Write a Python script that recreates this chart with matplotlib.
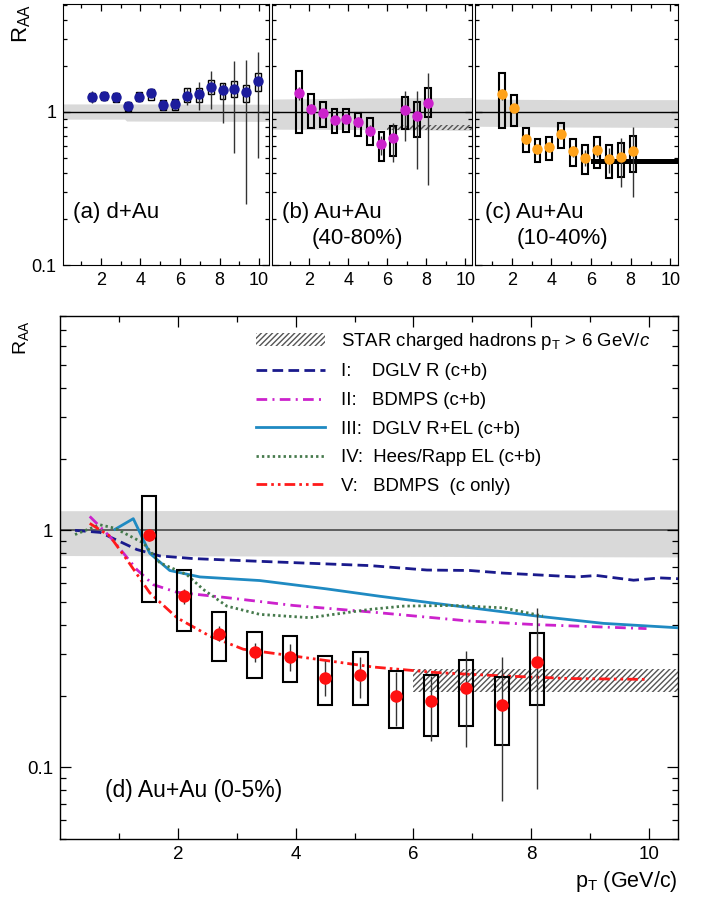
import matplotlib
matplotlib.use("Agg")
import matplotlib.pyplot as plt
from matplotlib.ticker import FixedLocator, FixedFormatter, LogLocator, NullFormatter

plt.rcParams['font.family'] = ['Liberation Sans', 'DejaVu Sans']
plt.rcParams['mathtext.fontset'] = 'custom'
plt.rcParams['mathtext.rm'] = 'Liberation Sans'
plt.rcParams['mathtext.it'] = 'Liberation Sans:italic'
plt.rcParams['hatch.linewidth'] = 1.0
plt.rcParams['hatch.color'] = '#555555'

# pT bins
pt = [1.5, 2.1, 2.7, 3.3, 3.9, 4.5, 5.1, 5.7, 6.3, 6.9, 7.5, 8.1]
pt_dau = [1.55, 2.15, 2.75, 3.35, 3.95, 4.55, 5.15, 5.75, 6.35, 6.95, 7.55, 8.15, 8.75, 9.35, 9.95]

# (a) d+Au
raa_dau = [1.25, 1.27, 1.24, 1.085, 1.25, 1.32, 1.11, 1.12, 1.27, 1.30, 1.45, 1.38, 1.40, 1.34, 1.59]
dau_stat_lo = [1.14, 1.20, 1.18, 1.02, 1.17, 1.24, 1.04, 1.04, 1.10, 1.03, 1.05, 0.84, 0.54, 0.25, 0.50]
dau_stat_hi = [1.37, 1.34, 1.31, 1.15, 1.34, 1.41, 1.19, 1.22, 1.44, 1.57, 1.85, 1.53, 2.14, 2.17, 2.46]
dau_sys_lo = [1.17, 1.19, 1.16, 1.01, 1.17, 1.20, 1.03, 1.03, 1.15, 1.16, 1.30, 1.21, 1.24, 1.16, 1.37]
dau_sys_hi = [1.33, 1.35, 1.32, 1.16, 1.34, 1.40, 1.20, 1.22, 1.44, 1.42, 1.61, 1.53, 1.59, 1.49, 1.78]

# (b) Au+Au 40-80%
raa_per = [1.32, 1.05, 0.976, 0.883, 0.892, 0.853, 0.752, 0.613, 0.677, 1.026, 0.937, 1.134]
per_stat_lo = [1.20, 0.98, 0.92, 0.83, 0.84, 0.79, 0.69, 0.52, 0.468, 0.644, 0.423, 0.333]
per_stat_hi = [1.45, 1.12, 1.04, 0.94, 0.95, 0.92, 0.82, 0.70, 0.848, 1.37, 1.37, 1.79]
per_sys_lo = [0.723, 0.787, 0.79, 0.73, 0.733, 0.694, 0.606, 0.479, 0.516, 0.767, 0.687, 0.928]
per_sys_hi = [1.85, 1.30, 1.16, 1.036, 1.036, 0.985, 0.905, 0.734, 0.81, 1.25, 1.16, 1.42]

# (c) Au+Au 10-40%
raa_mid = [1.30, 1.062, 0.664, 0.569, 0.591, 0.715, 0.554, 0.50, 0.56, 0.491, 0.506, 0.554]
mid_stat_lo = [1.20, 0.99, 0.62, 0.53, 0.55, 0.67, 0.51, 0.44, 0.51, 0.40, 0.324, 0.279]
mid_stat_hi = [1.40, 1.13, 0.71, 0.61, 0.63, 0.76, 0.60, 0.56, 0.61, 0.58, 0.67, 0.79]
mid_sys_lo = [0.78, 0.81, 0.543, 0.47, 0.484, 0.577, 0.443, 0.393, 0.427, 0.368, 0.377, 0.403]
mid_sys_hi = [1.78, 1.28, 0.787, 0.661, 0.687, 0.84, 0.661, 0.604, 0.684, 0.61, 0.628, 0.697]

# (d) Au+Au 0-5%
raa_cen = [0.953, 0.527, 0.367, 0.306, 0.293, 0.239, 0.245, 0.200, 0.190, 0.216, 0.183, 0.277]
cen_stat_lo = [0.90, 0.487, 0.341, 0.277, 0.255, 0.200, 0.197, 0.150, 0.129, 0.122, 0.072, 0.081]
cen_stat_hi = [1.01, 0.567, 0.394, 0.336, 0.330, 0.281, 0.293, 0.253, 0.243, 0.310, 0.293, 0.471]
cen_sys_lo = [0.50, 0.376, 0.280, 0.238, 0.229, 0.184, 0.183, 0.146, 0.136, 0.150, 0.124, 0.183]
cen_sys_hi = [1.39, 0.679, 0.453, 0.372, 0.357, 0.295, 0.307, 0.254, 0.245, 0.283, 0.241, 0.370]

# normalisation bands (x, low, high)
norm_a_x = [0.0, 3.2, 3.3, 10.5]
norm_a_lo = [0.895, 0.895, 0.87, 0.865]
norm_a_hi = [1.125, 1.125, 1.125, 1.12]
norm_b_x = [0.0, 5.0, 10.5]
norm_b_lo = [0.77, 0.765, 0.755]
norm_b_hi = [1.21, 1.23, 1.24]
norm_c_x = [0.0, 5.0, 10.5]
norm_c_lo = [0.805, 0.795, 0.79]
norm_c_hi = [1.21, 1.20, 1.20]
norm_d_x = [0.0, 5.0, 10.5]
norm_d_lo = [0.783, 0.778, 0.772]
norm_d_hi = [1.21, 1.215, 1.22]

# STAR charged hadrons pT > 6
star_x = [6.0, 10.5]
star_b_lo = [0.755, 0.755]
star_b_hi = [0.815, 0.815]
star_c_lo = [0.455, 0.455]
star_c_hi = [0.49, 0.49]
star_d_lo = [0.207, 0.207]
star_d_hi = [0.259, 0.259]

# theory curves
c1_x = [0.25, 0.68, 1.30, 1.69, 2.26, 3.39, 5.26, 6.23, 6.96, 7.53, 8.77, 9.11, 9.74, 10.19, 10.5]
c1_y = [1.0, 0.98, 0.83, 0.78, 0.76, 0.74, 0.71, 0.68, 0.677, 0.66, 0.636, 0.645, 0.616, 0.63, 0.625]
c2_x = [0.50, 0.845, 1.30, 1.58, 1.98, 2.83, 3.96, 5.38, 6.96, 8.09, 9.96]
c2_y = [1.145, 0.94, 0.683, 0.59, 0.548, 0.52, 0.482, 0.45, 0.414, 0.40, 0.385]
c3_x = [0.93, 1.24, 1.52, 1.86, 2.37, 3.39, 4.53, 5.43, 6.40, 8.09, 9.23, 10.5]
c3_y = [1.01, 1.12, 0.80, 0.677, 0.636, 0.614, 0.566, 0.527, 0.491, 0.435, 0.405, 0.388]
c4_x = [0.25, 0.67, 0.93, 1.41, 1.69, 2.15, 2.43, 2.83, 3.39, 4.24, 5.26, 5.83, 6.68, 7.53, 8.2]
c4_y = [0.96, 1.056, 1.02, 0.885, 0.73, 0.65, 0.563, 0.479, 0.442, 0.428, 0.464, 0.479, 0.482, 0.471, 0.435]
c5_x = [0.50, 0.845, 1.13, 1.52, 1.98, 2.54, 3.11, 3.96, 5.32, 6.40, 7.53, 8.66, 9.96]
c5_y = [1.07, 0.944, 0.753, 0.545, 0.428, 0.358, 0.315, 0.295, 0.265, 0.251, 0.243, 0.237, 0.235]


def style_axes(ax, ylo, yhi, xlo, xhi, major_len, minor_len, label_size, spine_lw):
    ax.set_yscale('log')
    ax.set_ylim(ylo, yhi)
    ax.set_xlim(xlo, xhi)
    ax.yaxis.set_major_locator(FixedLocator([0.1, 1]))
    ax.yaxis.set_major_formatter(FixedFormatter(['0.1', '1']))
    ax.yaxis.set_minor_locator(LogLocator(subs=range(2, 10)))
    ax.yaxis.set_minor_formatter(NullFormatter())
    ax.xaxis.set_major_locator(FixedLocator([2, 4, 6, 8, 10]))
    ax.xaxis.set_minor_locator(FixedLocator([1, 3, 5, 7, 9]))
    ax.tick_params(which='both', direction='in', top=True, right=True, labelsize=label_size, width=0.9)
    ax.tick_params(which='major', length=major_len, pad=5)
    ax.tick_params(which='minor', length=minor_len)
    for s in ax.spines.values():
        s.set_linewidth(spine_lw)


def draw_points(ax, x, y, slo, shi, ylo, yhi, color, bw, ms, box_lw):
    ax.bar(x, [h - l for l, h in zip(ylo, yhi)], bottom=ylo, width=bw, fill=False,
           edgecolor='black', linewidth=box_lw, zorder=3)
    ax.vlines(x, slo, shi, color='#333333', linewidth=1.0, zorder=4)
    ax.plot(x, y, 'o', color=color, markersize=ms, markeredgewidth=0, zorder=5)


fig = plt.figure(figsize=(7.01, 8.97), dpi=100)
W, H = 701.0, 897.0

ax_a = fig.add_axes([63.3 / W, 1 - 265 / H, 205.7 / W, 261 / H])
ax_b = fig.add_axes([272 / W, 1 - 265 / H, 200.3 / W, 261 / H])
ax_c = fig.add_axes([474.6 / W, 1 - 265 / H, 203.7 / W, 261 / H])
ax_d = fig.add_axes([60.3 / W, 1 - 838.7 / H, 618 / W, 522.4 / H])

style_axes(ax_a, 0.1, 5.05, 0.1, 10.5, 5, 3, 13, 0.8)
style_axes(ax_b, 0.1, 5.05, 0.1, 10.35, 5, 3, 13, 0.8)
style_axes(ax_c, 0.1, 5.05, 0.13, 10.4, 5, 3, 13, 0.8)
style_axes(ax_d, 0.05, 8.0, 0.0, 10.5, 8, 4, 13.5, 1.0)
ax_b.tick_params(labelleft=False)
ax_c.tick_params(labelleft=False)

band_color = '#d9d9d9'
ax_a.fill_between(norm_a_x, norm_a_lo, norm_a_hi, color=band_color, linewidth=0, zorder=0)
ax_b.fill_between(norm_b_x, norm_b_lo, norm_b_hi, color=band_color, linewidth=0, zorder=0)
ax_c.fill_between(norm_c_x, norm_c_lo, norm_c_hi, color=band_color, linewidth=0, zorder=0)
ax_d.fill_between(norm_d_x, norm_d_lo, norm_d_hi, color=band_color, linewidth=0, zorder=0)

for ax in (ax_a, ax_b, ax_c):
    ax.axhline(1, color='black', linewidth=1.0, zorder=1)
ax_d.axhline(1, color='#555555', linewidth=1.3, zorder=1)

ax_b.fill_between(star_x, star_b_lo, star_b_hi, facecolor='none', edgecolor='#555555',
                  hatch='//////', linewidth=0, zorder=2)
ax_c.fill_between(star_x, star_c_lo, star_c_hi, facecolor='black', edgecolor='none',
                  linewidth=0, zorder=2)
star_patch = ax_d.fill_between(star_x, star_d_lo, star_d_hi, facecolor='none', edgecolor='#555555',
                               hatch='//////', linewidth=0, zorder=2,
                               label=r'STAR charged hadrons p$_\mathrm{T}$ > 6 GeV/$\it{c}$')

draw_points(ax_a, pt_dau, raa_dau, dau_stat_lo, dau_stat_hi, dau_sys_lo, dau_sys_hi, '#1c1c9c', 0.3, 7.5, 1.0)
draw_points(ax_b, pt, raa_per, per_stat_lo, per_stat_hi, per_sys_lo, per_sys_hi, '#cc22cc', 0.3, 7.5, 1.5)
draw_points(ax_c, pt, raa_mid, mid_stat_lo, mid_stat_hi, mid_sys_lo, mid_sys_hi, '#ffa21a', 0.3, 7.5, 1.5)

lw = 2.0
l1, = ax_d.plot(c1_x, c1_y, color='#1a1a8c', linewidth=lw, dashes=(3.85, 1.9), zorder=3,
                label='I:    DGLV R (c+b)')
l2, = ax_d.plot(c2_x, c2_y, color='#cc22cc', linewidth=lw, dashes=(3.85, 1.9, 0.72, 1.9), zorder=3,
                label='II:   BDMPS (c+b)')
l3, = ax_d.plot(c3_x, c3_y, color='#1f8ac2', linewidth=lw, zorder=3,
                label='III:  DGLV R+EL (c+b)')
l4, = ax_d.plot(c4_x, c4_y, color='#467a4c', linewidth=lw, dashes=(0.85, 1.1), zorder=3,
                label='IV:  Hees/Rapp EL (c+b)')
l5, = ax_d.plot(c5_x, c5_y, color='#ff1a1a', linewidth=lw, dashes=(3.85, 1.45, 0.95, 1.45, 0.95, 1.45),
                zorder=3, label='V:   BDMPS  (c only)')

draw_points(ax_d, pt, raa_cen, cen_stat_lo, cen_stat_hi, cen_sys_lo, cen_sys_hi, '#ff1010', 0.24, 9, 1.5)

ax_d.legend(handles=[star_patch, l1, l2, l3, l4, l5], loc='upper left',
            bbox_to_anchor=(0.317, 0.972), frameon=False, fontsize=13.4,
            handlelength=3.7, handletextpad=0.85, labelspacing=0.62,
            borderpad=0, borderaxespad=0)

ax_a.text(0.046, 0.20, '(a) d+Au', transform=ax_a.transAxes, fontsize=16, va='center')
ax_b.text(0.048, 0.20, '(b) Au+Au', transform=ax_b.transAxes, fontsize=16, va='center')
ax_b.text(0.198, 0.10, '(40-80%)', transform=ax_b.transAxes, fontsize=16, va='center')
ax_c.text(0.052, 0.20, '(c) Au+Au', transform=ax_c.transAxes, fontsize=16, va='center')
ax_c.text(0.204, 0.10, '(10-40%)', transform=ax_c.transAxes, fontsize=16, va='center')
ax_d.text(0.072, 0.093, '(d) Au+Au (0-5%)', transform=ax_d.transAxes, fontsize=16.5, va='center')

fig.text(22 / W, 1 - 24 / H, r'R$_\mathrm{AA}$', rotation=90, fontsize=16, ha='center', va='center')
fig.text(21 / W, 1 - 338 / H, r'R$_\mathrm{AA}$', rotation=90, fontsize=14, ha='center', va='center')
fig.text(678 / W, 1 - 881 / H, r'p$_\mathrm{T}$ (GeV/c)', fontsize=15.5, ha='right', va='center')

fig.savefig('out.png', dpi=100)
